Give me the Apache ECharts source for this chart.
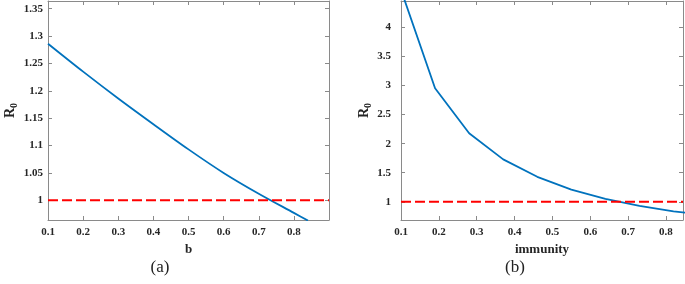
<!DOCTYPE html>
<html>
<head>
<meta charset="utf-8">
<script src="https://cdn.jsdelivr.net/npm/echarts@6/dist/echarts.min.js"></script>
<style>
  html, body { margin: 0; padding: 0; background: #fff; }
  #main { width: 685px; height: 284px; }
</style>
</head>
<body>
<div id="main"></div>
<script>
// (a) R0 against b
var bValues = [0.1, 0.2, 0.3, 0.4, 0.5, 0.6, 0.7, 0.8, 0.84];
var r0ByB = [1.286, 1.235, 1.186, 1.139, 1.093, 1.050, 1.012, 0.977, 0.963];

// (b) R0 against immunity
var immunityValues = [0.1, 0.19, 0.28, 0.37, 0.46, 0.55, 0.64, 0.73, 0.82, 0.91];
var r0ByImmunity = [4.65, 2.955, 2.18, 1.73, 1.43, 1.21, 1.05, 0.93, 0.835, 0.77];

// threshold R0 = 1
var thresholdA = [[0.1, 1], [0.9, 1]];
var thresholdB = [[0.1, 1], [0.845, 1]];

var captions = ['(a)', '(b)'];

var chart = echarts.init(document.getElementById('main'));

var font = 'Liberation Serif';
var boxColor = '#8a8a8a';
var labelStyle = { fontFamily: font, fontWeight: 'bold', fontSize: 11, color: '#262626' };

function pair(list, ys) {
    var out = [];
    for (var i = 0; i < list.length; i++) out.push([list[i], ys[i]]);
    return out;
}

function xAxes(grid, max, name) {
    var base = {
        type: 'value', gridIndex: grid, min: 0.1, max: max, interval: 0.1,
        axisLine: { show: true, lineStyle: { color: boxColor } },
        axisTick: { show: true, inside: true, length: 4, lineStyle: { color: boxColor } },
        splitLine: { show: false }
    };
    var bottom = Object.assign({}, base, {
        position: 'bottom',
        name: name, nameLocation: 'middle', nameGap: 20,
        nameTextStyle: { fontFamily: font, fontWeight: 'bold', fontSize: 13, color: '#262626' },
        axisLabel: Object.assign({ margin: 7, showMaxLabel: false }, labelStyle)
    });
    var top = Object.assign({}, base, { position: 'top', axisLabel: { show: false } });
    return [bottom, top];
}

function yAxes(grid, min, max, step, margin, gap) {
    var base = {
        type: 'value', gridIndex: grid, min: min, max: max,
        minInterval: step, maxInterval: step, splitNumber: 8,
        axisLine: { show: true, lineStyle: { color: boxColor } },
        axisTick: { show: true, inside: true, length: 4, lineStyle: { color: boxColor } },
        splitLine: { show: false }
    };
    var left = Object.assign({}, base, {
        position: 'left',
        name: '{r|R}{s|0}', nameLocation: 'middle', nameGap: gap, nameRotate: 90,
        nameTextStyle: {
            rich: {
                r: { fontFamily: font, fontWeight: 'bold', fontSize: 14, color: '#262626' },
                s: { fontFamily: font, fontWeight: 'bold', fontSize: 10, color: '#262626', padding: [8, 0, 0, 0] }
            }
        },
        axisLabel: Object.assign({ margin: margin, showMinLabel: false, showMaxLabel: false }, labelStyle)
    });
    var right = Object.assign({}, base, { position: 'right', axisLabel: { show: false } });
    return [left, right];
}

var option = {
    animation: false,
    grid: [
        { left: 48, top: 1, width: 281, height: 219 },
        { left: 401, top: 1, width: 282, height: 219 }
    ],
    xAxis: xAxes(0, 0.9, 'b').concat(xAxes(1, 0.845, 'immunity')),
    yAxis: yAxes(0, 0.964, 1.364, 0.05, 5, 28).concat(yAxes(1, 0.686, 4.457, 0.5, 10, 27)),
    series: [
        {
            type: 'line', xAxisIndex: 0, yAxisIndex: 0, data: pair(bValues, r0ByB),
            smooth: 0.3, symbol: 'none', lineStyle: { color: '#0072BD', width: 1.8 }
        },
        {
            type: 'line', xAxisIndex: 0, yAxisIndex: 0, data: thresholdA,
            symbol: 'none', lineStyle: { color: '#ff0000', width: 2, type: [10, 4] }
        },
        {
            type: 'line', xAxisIndex: 2, yAxisIndex: 2, data: pair(immunityValues, r0ByImmunity),
            symbol: 'none', lineStyle: { color: '#0072BD', width: 1.8 }
        },
        {
            type: 'line', xAxisIndex: 2, yAxisIndex: 2, data: thresholdB,
            symbol: 'none', lineStyle: { color: '#ff0000', width: 2, type: [10, 4] }
        }
    ],
    graphic: [
        { type: 'text', x: 160, y: 268, style: { text: captions[0], font: '17px "Liberation Serif"', fill: '#222', align: 'center', verticalAlign: 'middle' } },
        { type: 'text', x: 515, y: 268, style: { text: captions[1], font: '17px "Liberation Serif"', fill: '#222', align: 'center', verticalAlign: 'middle' } }
    ]
};

chart.setOption(option);
</script>
</body>
</html>
